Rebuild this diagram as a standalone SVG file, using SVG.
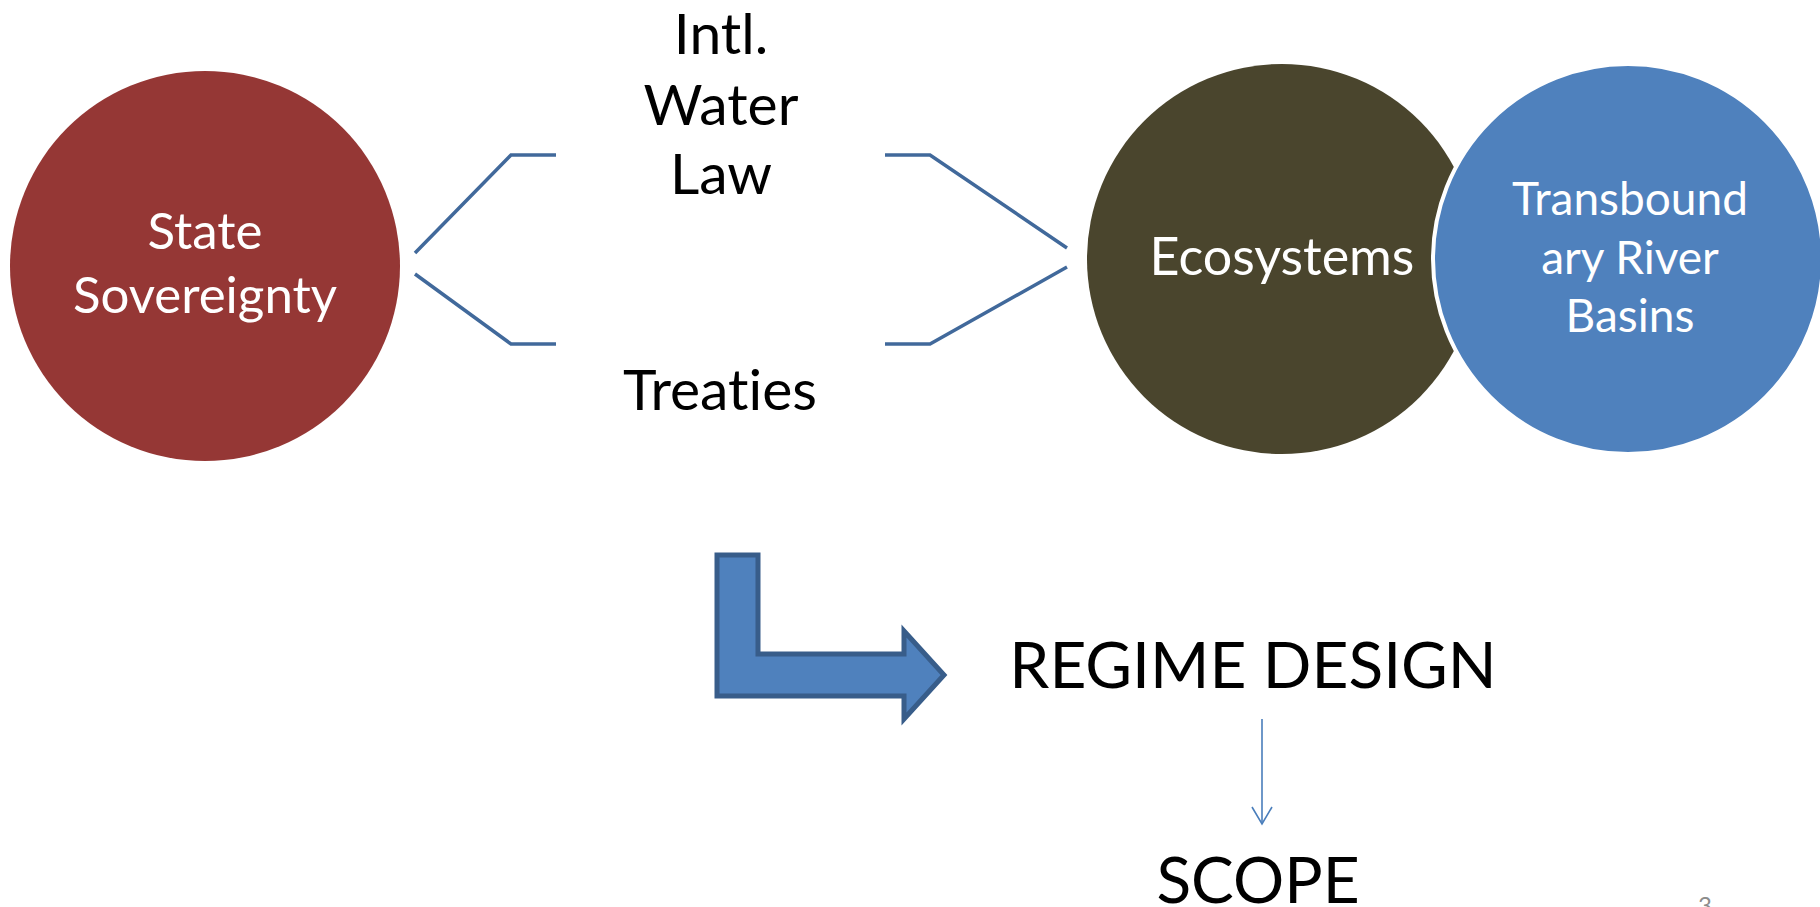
<svg xmlns="http://www.w3.org/2000/svg" width="1820" height="907" viewBox="0 0 1820 907">
  <style>
    text { font-family: Lato, "Open Sans", "Liberation Sans", sans-serif; text-anchor: middle; font-variant-ligatures: none; font-feature-settings: "liga" 0, "clig" 0; }
    .dark { fill: #000000; }
    .light { fill: #FFFFFF; }
    .link { fill: none; stroke: #41699B; stroke-width: 3.5; stroke-linejoin: miter; }
    .thin { fill: none; stroke: #4A7EBB; stroke-width: 1.6; }
  </style>
  <rect width="1820" height="907" fill="#FFFFFF"/>

  <!-- bracket connectors and the flow arrows -->
  <g id="connectors">
    <polyline class="link" points="415,253 511,155 556,155"/>
    <polyline class="link" points="415,274 511,344 556,344"/>
    <polyline class="link" points="885,155 930,155 1067,248"/>
    <polyline class="link" points="885,344 930,344 1067,267"/>
    <path d="M717,555 L758,555 L758,654 L904,654 L904,631 L944,675 L904,719 L904,696 L717,696 Z" fill="#4F81BD" stroke="#385D8A" stroke-width="5" stroke-linejoin="miter"/>
    <line class="thin" x1="1262" y1="719" x2="1262" y2="822"/>
    <path class="thin" d="M1252,807 L1262,824 L1272,807"/>
  </g>

  <g id="state-sovereignty">
    <circle cx="205" cy="266" r="195" fill="#953735"/>
    <text class="light" x="205" y="249" font-size="51">State</text>
    <text class="light" x="205" y="313" font-size="51">Sovereignty</text>
  </g>

  <g id="intl-water-law">
    <text class="dark" x="721" y="54" font-size="57">Intl.</text>
    <text class="dark" x="721" y="125" font-size="57">Water</text>
    <text class="dark" x="721" y="194" font-size="57">Law</text>
  </g>

  <g id="treaties">
    <text class="dark" x="720" y="410" font-size="57">Treaties</text>
  </g>

  <g id="ecosystems">
    <circle cx="1282" cy="259" r="195" fill="#4A452D"/>
    <text class="light" x="1282" y="275" font-size="52">Ecosystems</text>
  </g>

  <g id="river-basins">
    <circle cx="1628" cy="259" r="195" fill="#4F81BD" stroke="#FFFFFF" stroke-width="4"/>
    <text class="light" x="1630" y="215" font-size="46">Transbound</text>
    <text class="light" x="1630" y="274" font-size="46">ary River</text>
    <text class="light" x="1630" y="332" font-size="46">Basins</text>
  </g>

  <g id="regime-design">
    <text class="dark" x="1253" y="688" font-size="64">REGIME DESIGN</text>
  </g>

  <g id="scope">
    <text class="dark" x="1258" y="903" font-size="64">SCOPE</text>
  </g>

  <g id="page-number">
    <text x="1705" y="914" font-size="24" fill="#8C8C8C">3</text>
  </g>
</svg>
